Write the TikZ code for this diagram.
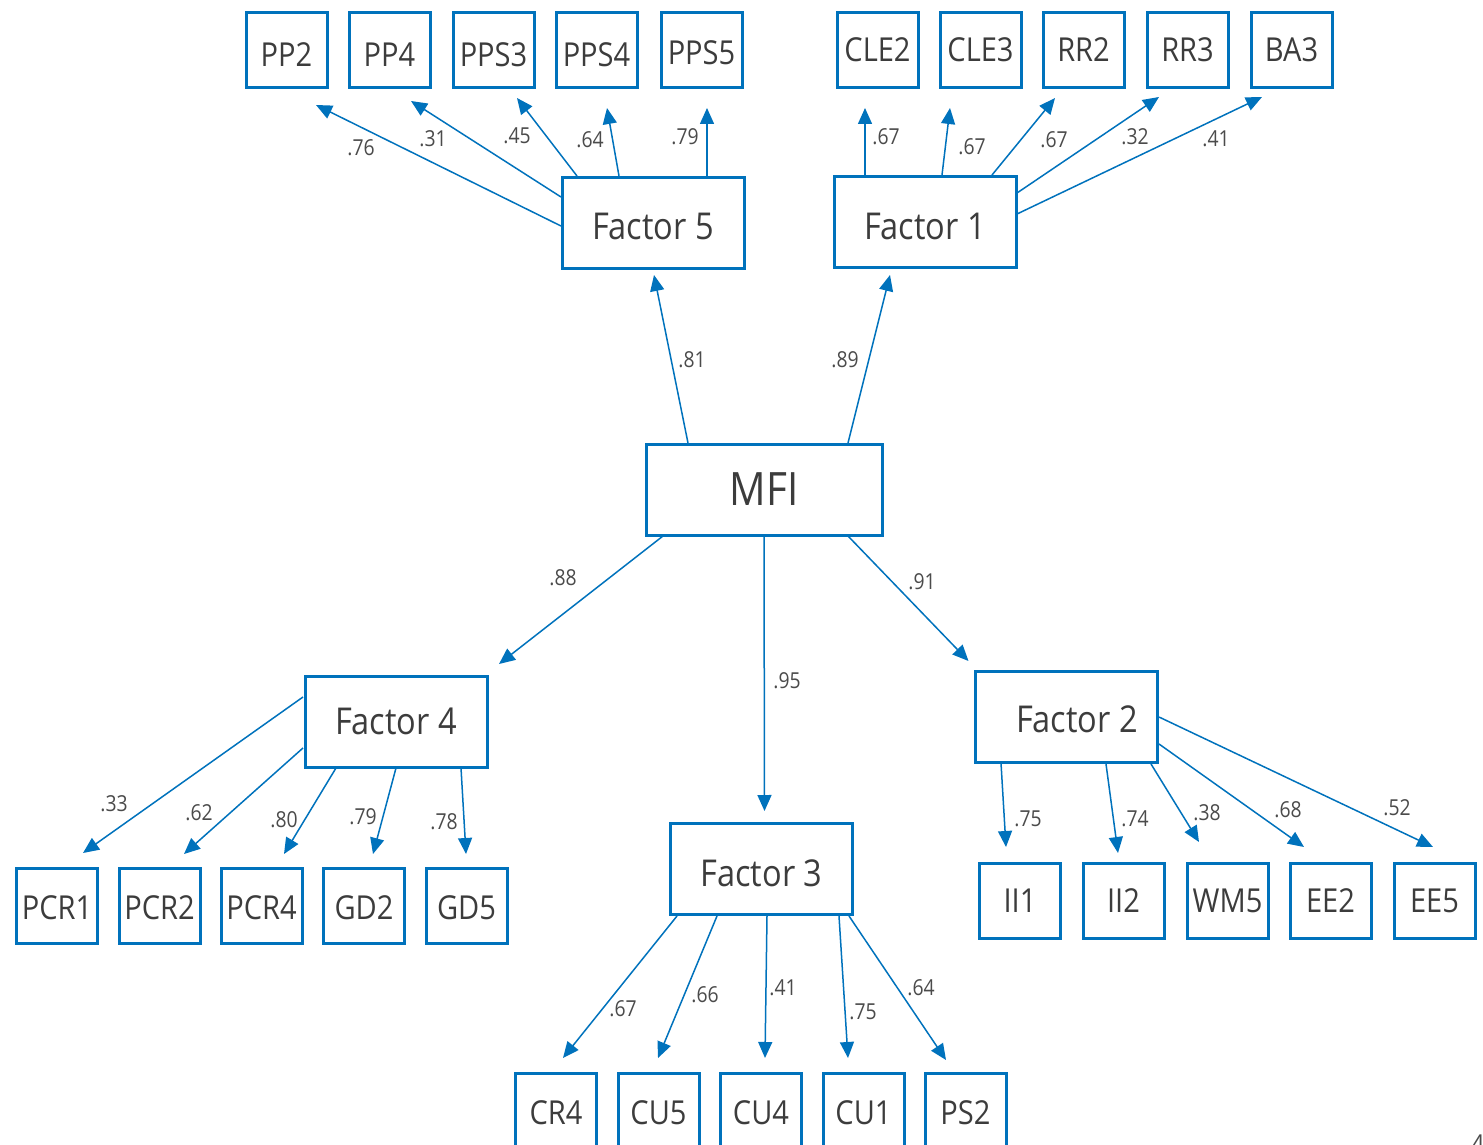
\documentclass[tikz,border=0pt]{standalone}
\usepackage{fontspec}
\setmainfont{Open Sans}[FakeStretch=0.88]
\usetikzlibrary{arrows.meta,calc}
\definecolor{sem}{RGB}{0,114,188}
\definecolor{txt}{RGB}{60,60,60}
\definecolor{labc}{RGB}{75,75,75}
\newcommand{\edg}[4]{\draw[arr] ([shift={(#2)}]#1.center) -- ([shift={(#4)}]#3.center);}
\newcommand{\dn}[2]{\raisebox{-#1}[\height][\depth]{#2}}
\begin{document}
\begin{tikzpicture}[x=0.5pt,y=-0.5pt,
  ind/.style={draw=sem,line width=1.5pt,minimum width=40.5pt,minimum height=37.5pt,inner sep=0pt,text=txt,font=\fontsize{16.5}{18}\selectfont},
  fac/.style={draw=sem,line width=1.5pt,minimum width=91pt,minimum height=45.5pt,inner sep=0pt,text=txt,font=\fontsize{18.5}{20}\selectfont},
  top/.style={draw=sem,line width=1.5pt,minimum width=118pt,minimum height=45.5pt,inner sep=0pt,text=txt,font=\fontsize{23}{26}\selectfont},
  arr/.style={draw=sem,line width=0.75pt,-{Triangle[length=8pt,width=7pt]}},
  lab/.style={text=labc,font=\fontsize{11}{12}\selectfont,inner sep=0pt}]
\useasboundingbox (0,0) rectangle (1483,1145);

% central
\node[top] (mfi) at (764,489.5) {MFI};

% factors
\node[fac] (f5) at (653,222.5) {\dn{2pt}{Factor 5}};
\node[fac] (f1) at (925,222) {\dn{2pt}{Factor 1}\hspace{5pt}};
\node[fac] (f4) at (396,721.5) {Factor 4};
\node[fac] (f3) at (761.5,869) {\dn{2pt}{Factor 3}};
\node[fac] (f2) at (1066.5,716.5) {\hspace{10.5pt}\dn{1.5pt}{Factor 2}};

% indicators top-left
\node[ind] (pp2) at (286.5,50) {\dn{2.5pt}{PP2}};
\node[ind] (pp4) at (389.5,50) {\dn{2.5pt}{PP4}};
\node[ind] (pps3) at (493.5,50) {\dn{2.5pt}{PPS3}};
\node[ind] (pps4) at (596.5,50) {\dn{2.5pt}{PPS4}};
\node[ind] (pps5) at (701.5,50) {\dn{1.5pt}{PPS5}};
% indicators top-right
\node[ind] (cle2) at (877.5,50) {CLE2};
\node[ind] (cle3) at (980.5,50) {CLE3};
\node[ind] (rr2) at (1083.5,50) {RR2};
\node[ind] (rr3) at (1187.5,50) {RR3};
\node[ind] (ba3) at (1291.5,50) {BA3};
% indicators bottom-left
\node[ind] (pcr1) at (57,906) {\dn{1pt}{PCR1}};
\node[ind] (pcr2) at (159.5,906) {\dn{1pt}{PCR2}};
\node[ind] (pcr4) at (261.5,906) {\dn{1pt}{PCR4}};
\node[ind] (gd2) at (364,906) {\dn{1pt}{GD2}};
\node[ind] (gd5) at (466.5,906) {\dn{1pt}{GD5}};
% indicators bottom-middle
\node[ind] (cr4) at (556,1110.5) {\dn{1pt}{CR4}};
\node[ind] (cu5) at (658.5,1110.5) {\dn{1pt}{CU5}};
\node[ind] (cu4) at (761,1110.5) {\dn{1pt}{CU4}};
\node[ind] (cu1) at (863.5,1110.5) {\dn{1pt}{CU1}};
\node[ind] (ps2) at (965.5,1110.5) {\dn{1pt}{PS2}};
% indicators bottom-right
\node[ind] (ii1) at (1020,901) {II1};
\node[ind] (ii2) at (1123.5,901) {II2};
\node[ind] (wm5) at (1227.5,901) {WM5};
\node[ind] (ee2) at (1330.5,901) {EE2};
\node[ind] (ee5) at (1434.5,901) {EE5};

% MFI -> factors
\edg{mfi}{-76,-46.5}{f5}{1,52.5}
\edg{mfi}{84,-46.5}{f1}{-35,53}
\edg{mfi}{-101,46.5}{f4}{103,-57.5}
\edg{mfi}{0,46.5}{f3}{3,-58}
\edg{mfi}{84,46.5}{f2}{-98,-55.5}
\node[lab] (l-f5) at (692,360) {.81};
\node[lab] (l-f1) at (845,360) {.89};
\node[lab] (l-f4) at (563,578) {.88};
\node[lab] (l-f3) at (787,681) {.95};
\node[lab] (l-f2) at (922,582) {.91};

% Factor 5
\edg{f5}{-92,3.5}{pp2}{29.5,55}
\edg{f5}{-92,-25.5}{pp4}{21.5,51}
\edg{f5}{-76,-46.5}{pps3}{23.5,48}
\edg{f5}{-34,-46.5}{pps4}{10.5,58}
\edg{f5}{54,-46.5}{pps5}{5.5,58}
\node[lab] (l-pp2) at (361,148) {.76};
\node[lab] (l-pp4) at (433,139) {.31};
\node[lab] (l-pps3) at (517,136) {.45};
\node[lab] (l-pps4) at (590,140) {.64};
\node[lab] (l-pps5) at (685,137) {.79};

% Factor 1
\edg{f1}{-60,-47}{cle2}{-12.5,58}
\edg{f1}{17,-47}{cle3}{-30.5,58}
\edg{f1}{67,-47}{rr2}{-28.5,48}
\edg{f1}{92,-29}{rr3}{-28.5,47}
\edg{f1}{92,-8}{ba3}{-29.5,47}
\node[lab] (l-cle2) at (886,137) {.67};
\node[lab] (l-cle3) at (972,147) {.67};
\node[lab] (l-rr2) at (1054,140) {.67};
\node[lab] (l-rr3) at (1135,137) {.32};
\node[lab] (l-ba3) at (1216,139) {.41};

% Factor 4
\edg{f4}{-93,-24.5}{pcr1}{26,-53}
\edg{f4}{-93,26.5}{pcr2}{24.5,-52}
\edg{f4}{-60,46.5}{pcr4}{22.5,-52}
\edg{f4}{0,46.5}{gd2}{9,-52}
\edg{f4}{65,46.5}{gd5}{-0.5,-52}
\node[lab] (l-pcr1) at (114,804) {.33};
\node[lab] (l-pcr2) at (199,813) {.62};
\node[lab] (l-pcr4) at (284,820) {.80};
\node[lab] (l-gd2) at (363,817) {.79};
\node[lab] (l-gd5) at (444,822) {.78};

% Factor 3
\edg{f3}{-84.5,47}{cr4}{7,-52.5}
\edg{f3}{-44.5,47}{cu5}{-0.5,-52.5}
\edg{f3}{5.5,47}{cu4}{4,-52.5}
\edg{f3}{77.5,47}{cu1}{-15.5,-52.5}
\edg{f3}{87.5,47}{ps2}{-19.5,-50.5}
\node[lab] (l-cr4) at (623,1009) {.67};
\node[lab] (l-cu5) at (705,995) {.66};
\node[lab] (l-cu4) at (783,988) {.41};
\node[lab] (l-cu1) at (863,1012) {.75};
\node[lab] (l-ps2) at (921,988) {.64};

% Factor 2
\edg{f2}{-65.5,46.5}{ii1}{-14,-54}
\edg{f2}{39.5,47.5}{ii2}{-5.5,-48}
\edg{f2}{84.5,47.5}{wm5}{-28.5,-59}
\edg{f2}{92.5,27.5}{ee2}{-26.5,-54}
\edg{f2}{92.5,0.5}{ee5}{-1.5,-54}
\node[lab] (l-ii1) at (1028,819) {.75};
\node[lab] (l-ii2) at (1135,819) {.74};
\node[lab] (l-wm5) at (1207,813) {.38};
\node[lab] (l-ee2) at (1288,810) {.68};
\node[lab] (l-ee5) at (1397,808) {.52};

% cut-off page number, as in the reference
\node[text=labc,font=\fontsize{13}{14}\selectfont,inner sep=0pt,anchor=north west] (pgno) at (1471,1134) {4};
\end{tikzpicture}
\end{document}
